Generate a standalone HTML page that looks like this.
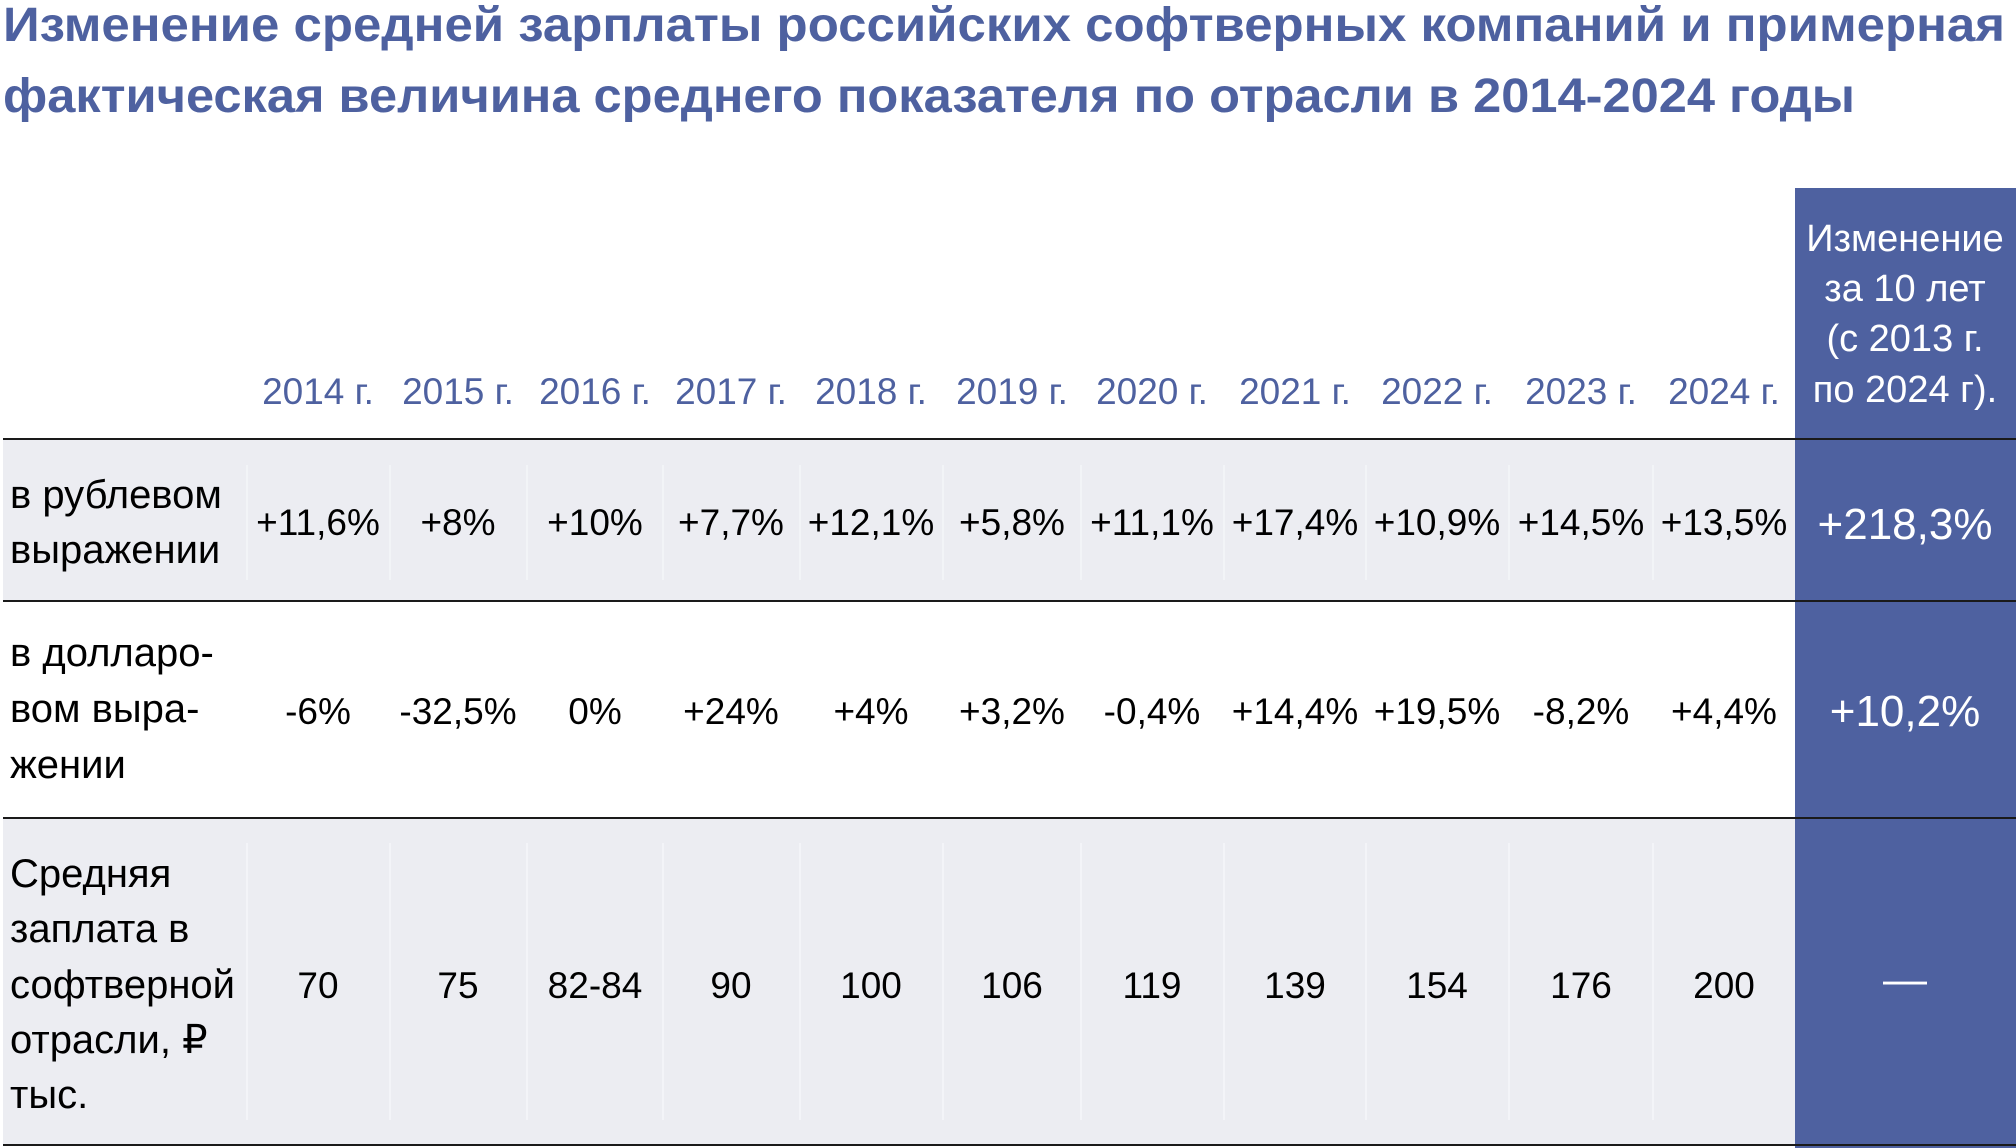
<!DOCTYPE html>
<html><head><meta charset="utf-8"><style>
html,body{margin:0;padding:0;background:#fff;}
svg{display:block;}
text{font-family:"Liberation Sans",sans-serif;}
</style></head><body>
<svg width="2016" height="1148" viewBox="0 0 2016 1148" xmlns="http://www.w3.org/2000/svg">
<rect width="2016" height="1148" fill="#fff"/>
<g fill="#4e61a0" font-weight="bold" font-size="48">
<text x="3" y="41" textLength="2002" lengthAdjust="spacingAndGlyphs">Изменение средней зарплаты российских софтверных компаний и примерная</text>
<text x="3" y="112" textLength="1852" lengthAdjust="spacingAndGlyphs">фактическая величина среднего показателя по отрасли в 2014-2024 годы</text>
</g>
<rect x="3" y="439" width="1792" height="162" fill="#ecedf2"/>
<rect x="3" y="819" width="1792" height="326" fill="#ecedf2"/>
<g stroke="#f5f6f9" stroke-width="1.5">
<line x1="247" y1="465" x2="247" y2="580"/><line x1="390" y1="465" x2="390" y2="580"/><line x1="527" y1="465" x2="527" y2="580"/><line x1="663" y1="465" x2="663" y2="580"/><line x1="800" y1="465" x2="800" y2="580"/><line x1="943" y1="465" x2="943" y2="580"/><line x1="1081" y1="465" x2="1081" y2="580"/><line x1="1224" y1="465" x2="1224" y2="580"/><line x1="1366" y1="465" x2="1366" y2="580"/><line x1="1509" y1="465" x2="1509" y2="580"/><line x1="1653" y1="465" x2="1653" y2="580"/>
<line x1="247" y1="843" x2="247" y2="1120"/><line x1="390" y1="843" x2="390" y2="1120"/><line x1="527" y1="843" x2="527" y2="1120"/><line x1="663" y1="843" x2="663" y2="1120"/><line x1="800" y1="843" x2="800" y2="1120"/><line x1="943" y1="843" x2="943" y2="1120"/><line x1="1081" y1="843" x2="1081" y2="1120"/><line x1="1224" y1="843" x2="1224" y2="1120"/><line x1="1366" y1="843" x2="1366" y2="1120"/><line x1="1509" y1="843" x2="1509" y2="1120"/><line x1="1653" y1="843" x2="1653" y2="1120"/>
</g>
<rect x="1795" y="188" width="221" height="960" fill="#4e61a0"/>
<g stroke="#1a1a1a" stroke-width="2">
<line x1="3" y1="439" x2="2016" y2="439"/>
<line x1="3" y1="601" x2="2016" y2="601"/>
<line x1="3" y1="818" x2="2016" y2="818"/>
<line x1="3" y1="1145" x2="2016" y2="1145"/>
</g>
<g fill="#4e61a0" font-size="37" text-anchor="middle">
<text x="318" y="404">2014 г.</text><text x="458" y="404">2015 г.</text><text x="595" y="404">2016 г.</text><text x="731" y="404">2017 г.</text><text x="871" y="404">2018 г.</text><text x="1012" y="404">2019 г.</text><text x="1152" y="404">2020 г.</text><text x="1295" y="404">2021 г.</text><text x="1437" y="404">2022 г.</text><text x="1581" y="404">2023 г.</text><text x="1724" y="404">2024 г.</text>
</g>
<g fill="#fff" font-size="38" text-anchor="middle">
<text x="1905" y="251">Изменение</text><text x="1905" y="301">за 10 лет</text><text x="1905" y="351">(с 2013 г.</text><text x="1905" y="402">по 2024 г).</text>
<text x="1905" y="539" font-size="44">+218,3%</text>
<text x="1905" y="726" font-size="44">+10,2%</text>
<text x="1905" y="994" font-size="44">—</text>
</g>
<g fill="#000" font-size="40">
<text x="10" y="508">в рублевом</text><text x="10" y="563">выражении</text>
<text x="10" y="666">в долларо-</text><text x="10" y="722">вом выра-</text><text x="10" y="778">жении</text>
<text x="10" y="887">Средняя</text><text x="10" y="942">заплата в</text><text x="10" y="998">софтверной</text><text x="10" y="1053">отрасли, ₽</text><text x="10" y="1108">тыс.</text>
</g>
<g fill="#000" font-size="37" text-anchor="middle">
<text x="318" y="535">+11,6%</text><text x="458" y="535">+8%</text><text x="595" y="535">+10%</text><text x="731" y="535">+7,7%</text><text x="871" y="535">+12,1%</text><text x="1012" y="535">+5,8%</text><text x="1152" y="535">+11,1%</text><text x="1295" y="535">+17,4%</text><text x="1437" y="535">+10,9%</text><text x="1581" y="535">+14,5%</text><text x="1724" y="535">+13,5%</text>
<text x="318" y="724">-6%</text><text x="458" y="724">-32,5%</text><text x="595" y="724">0%</text><text x="731" y="724">+24%</text><text x="871" y="724">+4%</text><text x="1012" y="724">+3,2%</text><text x="1152" y="724">-0,4%</text><text x="1295" y="724">+14,4%</text><text x="1437" y="724">+19,5%</text><text x="1581" y="724">-8,2%</text><text x="1724" y="724">+4,4%</text>
<text x="318" y="998">70</text><text x="458" y="998">75</text><text x="595" y="998">82-84</text><text x="731" y="998">90</text><text x="871" y="998">100</text><text x="1012" y="998">106</text><text x="1152" y="998">119</text><text x="1295" y="998">139</text><text x="1437" y="998">154</text><text x="1581" y="998">176</text><text x="1724" y="998">200</text>
</g>
</svg>
</body></html>
